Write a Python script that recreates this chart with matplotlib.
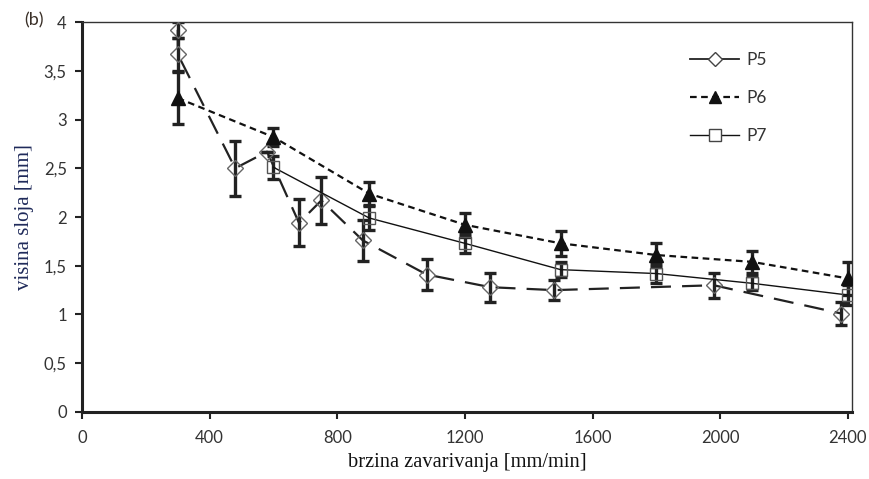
import matplotlib
matplotlib.use("Agg")
import matplotlib.pyplot as plt
from matplotlib.lines import Line2D

# P5 - prazni rombovi, duga isprekidana linija
p5_x = [300, 300, 480, 580, 680, 750, 880, 1080, 1280, 1480, 1980, 2380]
p5_y = [3.92, 3.67, 2.50, 2.67, 1.94, 2.17, 1.76, 1.41, 1.28, 1.25, 1.30, 1.01]
p5_err = [0.08, 0.17, 0.28, 0.0, 0.24, 0.24, 0.21, 0.16, 0.15, 0.10, 0.13, 0.12]

# P6 - puni trokuti, kratka isprekidana linija
p6_x = [300, 600, 900, 1200, 1500, 1800, 2100, 2400]
p6_y = [3.22, 2.82, 2.24, 1.92, 1.73, 1.61, 1.54, 1.37]
p6_err = [0.27, 0.09, 0.12, 0.12, 0.13, 0.12, 0.11, 0.17]

# P7 - prazni kvadrati, puna linija
p7_x = [600, 900, 1200, 1500, 1800, 2100, 2400]
p7_y = [2.51, 1.99, 1.73, 1.46, 1.42, 1.32, 1.20]
p7_err = [0.12, 0.12, 0.10, 0.08, 0.10, 0.07, 0.10]

x_ticks = [0, 400, 800, 1200, 1600, 2000, 2400]
y_ticks = [0, 0.5, 1, 1.5, 2, 2.5, 3, 3.5, 4]
y_tick_labels = ["0", "0,5", "1", "1,5", "2", "2,5", "3", "3,5", "4"]

sans = ["Lato", "DejaVu Sans"]
serif = ["Liberation Serif", "DejaVu Serif"]

fig = plt.figure(figsize=(8.69, 4.79), dpi=100)
ax = fig.add_axes([0.0944, 0.1399, 0.8856, 0.8141])

err_kw = dict(fmt="none", ecolor="#222222", elinewidth=2.4, capsize=4, capthick=2.4, zorder=2)
ax.errorbar(p5_x, p5_y, yerr=p5_err, **err_kw)
ax.errorbar(p6_x, p6_y, yerr=p6_err, **err_kw)
ax.errorbar(p7_x, p7_y, yerr=p7_err, **err_kw)

ax.plot(p5_x, p5_y, color="#222222", lw=1.6, dashes=(9, 5), marker="D", markersize=8,
        markerfacecolor="none", markeredgecolor="#666666", markeredgewidth=1.0, zorder=3)
ax.plot(p6_x, p6_y, color="#111111", lw=1.6, dashes=(3, 2), marker="^", markersize=10,
        markerfacecolor="#111111", markeredgecolor="#111111", zorder=3)
ax.plot(p7_x, p7_y, color="#111111", lw=1.0, linestyle="-", marker="s", markersize=9,
        markerfacecolor="none", markeredgecolor="#555555", markeredgewidth=1.0, zorder=3)

# legenda (P5 u legendi ima punu liniju)
h5 = Line2D([], [], color="#222222", lw=1.3, marker="D", markersize=7,
            markerfacecolor="white", markeredgecolor="#444444")
h6 = Line2D([], [], color="#111111", lw=1.6, dashes=(3, 2), marker="^", markersize=9,
            markerfacecolor="#111111", markeredgecolor="#111111")
h7 = Line2D([], [], color="#111111", lw=1.0, marker="s", markersize=9,
            markerfacecolor="white", markeredgecolor="#444444")
leg = ax.legend([h5, h6, h7], ["P5", "P6", "P7"], loc="upper left",
                bbox_to_anchor=(0.77, 0.962), frameon=False, handlelength=2.8,
                labelspacing=1.25, handletextpad=0.45, prop={"family": sans, "size": 12.5})
for t in leg.get_texts():
    t.set_color("#333333")

ax.set_xlim(0, 2412)
ax.set_ylim(0, 4)
ax.set_xticks(x_ticks)
ax.set_xticklabels([str(v) for v in x_ticks], fontfamily=sans, fontsize=12, color="#333333")
ax.set_yticks(y_ticks)
ax.set_yticklabels(y_tick_labels, fontfamily=sans, fontsize=12, color="#333333")
ax.tick_params(axis="both", direction="out", length=5, width=1.5, color="#222222")
ax.tick_params(axis="x", pad=8)
ax.tick_params(axis="y", pad=6)

for s in ["left", "bottom"]:
    ax.spines[s].set_linewidth(2.2)
    ax.spines[s].set_color("#222222")
for s in ["top", "right"]:
    ax.spines[s].set_linewidth(1.0)
    ax.spines[s].set_color("#333333")

ax.set_xlabel("brzina zavarivanja [mm/min]", fontfamily=serif, fontsize=14.7, color="#111111", labelpad=5)
ax.set_ylabel("visina sloja [mm]", fontfamily=serif, fontsize=15, color="#1f2a5a", labelpad=7)

fig.text(0.028, 0.957, "(b)", fontfamily=sans, fontsize=13, color="#3a3028", va="center")

fig.savefig("out.png", dpi=100)
